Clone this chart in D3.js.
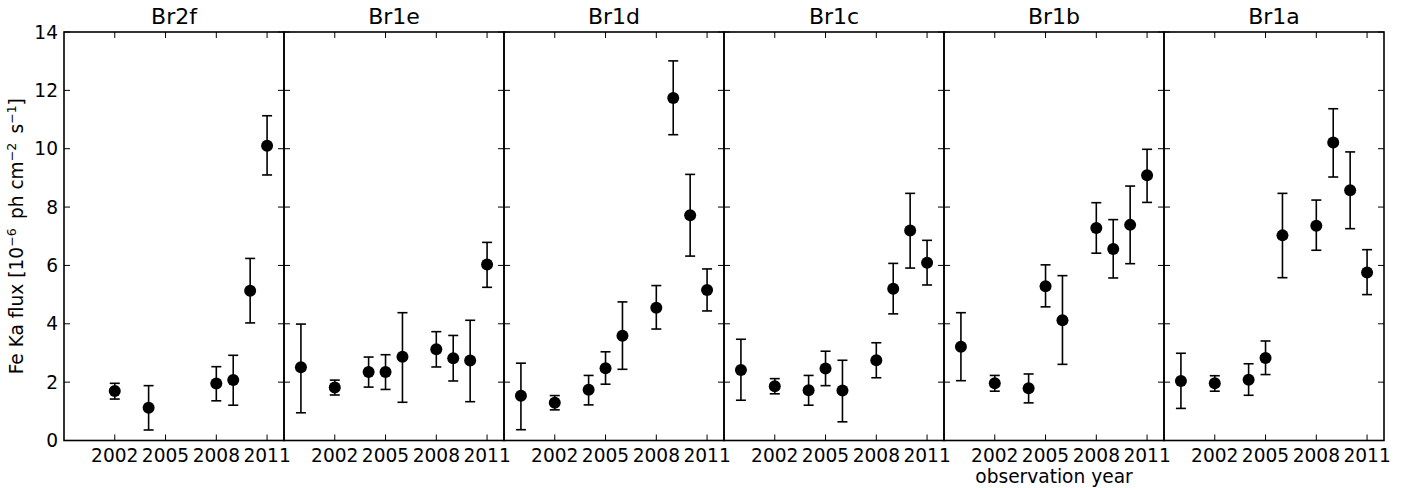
<!DOCTYPE html>
<html>
<head>
<meta charset="utf-8">
<script src="https://cdn.jsdelivr.net/npm/d3@7"></script>
<style>
  body { margin: 0; background: #fff; }
  svg { display: block; font-family: "DejaVu Sans", sans-serif; }
</style>
</head>
<body>
<svg id="chart" width="1416" height="488"></svg>
<script>
// ---- data ----
const panels = ["Br2f", "Br1e", "Br1d", "Br1c", "Br1b", "Br1a"];
const xTicks = [2002, 2005, 2008, 2011];
const yTicks = [0, 2, 4, 6, 8, 10, 12, 14];

const years_Br2f = [2002, 2004, 2008, 2009, 2010, 2011];
const flux_Br2f  = [1.70, 1.12, 1.95, 2.07, 5.13, 10.10];
const lo_Br2f    = [1.42, 0.36, 1.36, 1.21, 4.03, 9.10];
const hi_Br2f    = [1.96, 1.88, 2.53, 2.92, 6.24, 11.13];

const years_Br1 = [2000, 2002, 2004, 2005, 2006, 2008, 2009, 2010, 2011];

const flux_Br1e = [2.51, 1.82, 2.35, 2.35, 2.87, 3.13, 2.82, 2.74, 6.03];
const lo_Br1e   = [0.95, 1.56, 1.83, 1.75, 1.31, 2.52, 2.04, 1.33, 5.25];
const hi_Br1e   = [3.99, 2.07, 2.86, 2.94, 4.38, 3.73, 3.60, 4.12, 6.79];

const flux_Br1d = [1.53, 1.29, 1.74, 2.48, 3.59, 4.55, 11.74, 7.72, 5.16];
const lo_Br1d   = [0.37, 1.05, 1.22, 1.93, 2.44, 3.82, 10.48, 6.32, 4.44];
const hi_Br1d   = [2.65, 1.54, 2.23, 3.04, 4.75, 5.31, 13.01, 9.12, 5.88];

const flux_Br1c = [2.42, 1.86, 1.72, 2.47, 1.71, 2.75, 5.20, 7.20, 6.09];
const lo_Br1c   = [1.38, 1.60, 1.21, 1.88, 0.64, 2.15, 4.34, 5.91, 5.33];
const hi_Br1c   = [3.47, 2.12, 2.23, 3.06, 2.75, 3.35, 6.07, 8.47, 6.86];

const flux_Br1b = [3.21, 1.96, 1.79, 5.29, 4.12, 7.28, 6.56, 7.39, 9.09];
const lo_Br1b   = [2.05, 1.69, 1.29, 4.58, 2.61, 6.42, 5.57, 6.06, 8.16];
const hi_Br1b   = [4.38, 2.23, 2.28, 6.02, 5.65, 8.15, 7.57, 8.72, 9.98];

const flux_Br1a = [2.04, 1.96, 2.08, 2.83, 7.03, 7.36, 10.21, 8.58, 5.76];
const lo_Br1a   = [1.10, 1.69, 1.55, 2.26, 5.58, 6.52, 9.03, 7.26, 5.00];
const hi_Br1a   = [2.99, 2.22, 2.63, 3.41, 8.47, 8.24, 11.37, 9.89, 6.54];

const series = [
  {name: "Br2f", years: years_Br2f, flux: flux_Br2f, lo: lo_Br2f, hi: hi_Br2f},
  {name: "Br1e", years: years_Br1, flux: flux_Br1e, lo: lo_Br1e, hi: hi_Br1e},
  {name: "Br1d", years: years_Br1, flux: flux_Br1d, lo: lo_Br1d, hi: hi_Br1d},
  {name: "Br1c", years: years_Br1, flux: flux_Br1c, lo: lo_Br1c, hi: hi_Br1c},
  {name: "Br1b", years: years_Br1, flux: flux_Br1b, lo: lo_Br1b, hi: hi_Br1b},
  {name: "Br1a", years: years_Br1, flux: flux_Br1a, lo: lo_Br1a, hi: hi_Br1a}
];

// ---- layout ----
const mLeft = 64, mTop = 32, mBottom = 440.5, panelW = 220;
const tickLen = 6, capHalf = 5, markerR = 6;
const fs = 18.6;
const svg = d3.select("#chart");

const y = d3.scaleLinear().domain([0, 14]).range([mBottom, mTop]);

series.forEach((s, i) => {
  const x0 = mLeft + i * panelW;
  const x = d3.scaleLinear().domain([1999, 2012]).range([x0, x0 + panelW]);
  const g = svg.append("g");

  // ticks (inward, all four sides)
  const tk = g.append("g").attr("stroke", "#000").attr("stroke-width", 1);
  xTicks.forEach(t => {
    tk.append("line").attr("x1", x(t)).attr("x2", x(t)).attr("y1", mBottom).attr("y2", mBottom - tickLen);
    tk.append("line").attr("x1", x(t)).attr("x2", x(t)).attr("y1", mTop).attr("y2", mTop + tickLen);
  });
  yTicks.forEach(t => {
    tk.append("line").attr("x1", x0).attr("x2", x0 + tickLen).attr("y1", y(t)).attr("y2", y(t));
    tk.append("line").attr("x1", x0 + panelW).attr("x2", x0 + panelW - tickLen).attr("y1", y(t)).attr("y2", y(t));
  });

  // x tick labels
  g.append("g").selectAll("text").data(xTicks).join("text")
    .attr("x", d => x(d)).attr("y", 462)
    .attr("text-anchor", "middle").attr("font-size", fs).attr("fill", "#000")
    .text(d => d);

  // y tick labels (first panel only)
  if (i === 0) {
    g.append("g").selectAll("text").data(yTicks).join("text")
      .attr("x", x0 - 6).attr("y", d => y(d) + 6.7)
      .attr("text-anchor", "end").attr("font-size", fs).attr("fill", "#000")
      .text(d => d);
  }

  // title
  g.append("text").attr("x", x0 + panelW / 2).attr("y", 24)
    .attr("text-anchor", "middle").attr("font-size", 22).attr("fill", "#000")
    .text(s.name);

  // data
  const pts = s.years.map((yr, k) => ({yr, v: s.flux[k], lo: s.lo[k], hi: s.hi[k]}));
  const eb = g.append("g").attr("stroke", "#000").attr("stroke-width", 1.6);
  pts.forEach(p => {
    eb.append("line").attr("x1", x(p.yr)).attr("x2", x(p.yr)).attr("y1", y(p.lo)).attr("y2", y(p.hi));
    eb.append("line").attr("x1", x(p.yr) - capHalf).attr("x2", x(p.yr) + capHalf).attr("y1", y(p.lo)).attr("y2", y(p.lo));
    eb.append("line").attr("x1", x(p.yr) - capHalf).attr("x2", x(p.yr) + capHalf).attr("y1", y(p.hi)).attr("y2", y(p.hi));
  });
  g.append("g").selectAll("circle").data(pts).join("circle")
    .attr("cx", d => x(d.yr)).attr("cy", d => y(d.v)).attr("r", markerR).attr("fill", "#000");

  // frame
  g.append("rect").attr("x", x0).attr("y", mTop).attr("width", panelW).attr("height", mBottom - mTop)
    .attr("fill", "none").attr("stroke", "#000").attr("stroke-width", 1.6);
});

// y-axis label
const yl = svg.append("text")
  .attr("transform", `translate(23, ${(mTop + mBottom) / 2}) rotate(-90)`)
  .attr("text-anchor", "middle").attr("font-size", fs).attr("fill", "#000");
yl.append("tspan").text("Fe Ka flux [10");
yl.append("tspan").attr("dy", -7).attr("font-size", 12.5).text("\u22126");
yl.append("tspan").attr("dy", 7).text("\u2002ph cm");
yl.append("tspan").attr("dy", -7).attr("font-size", 12.5).text("\u22122");
yl.append("tspan").attr("dy", 7).text("\u2002s");
yl.append("tspan").attr("dy", -7).attr("font-size", 12.5).text("\u22121");
yl.append("tspan").attr("dy", 7).text("]");

// x-axis label
svg.append("text").attr("x", 1054).attr("y", 483)
  .attr("text-anchor", "middle").attr("font-size", fs).attr("fill", "#000")
  .text("observation year");
</script>
</body>
</html>
